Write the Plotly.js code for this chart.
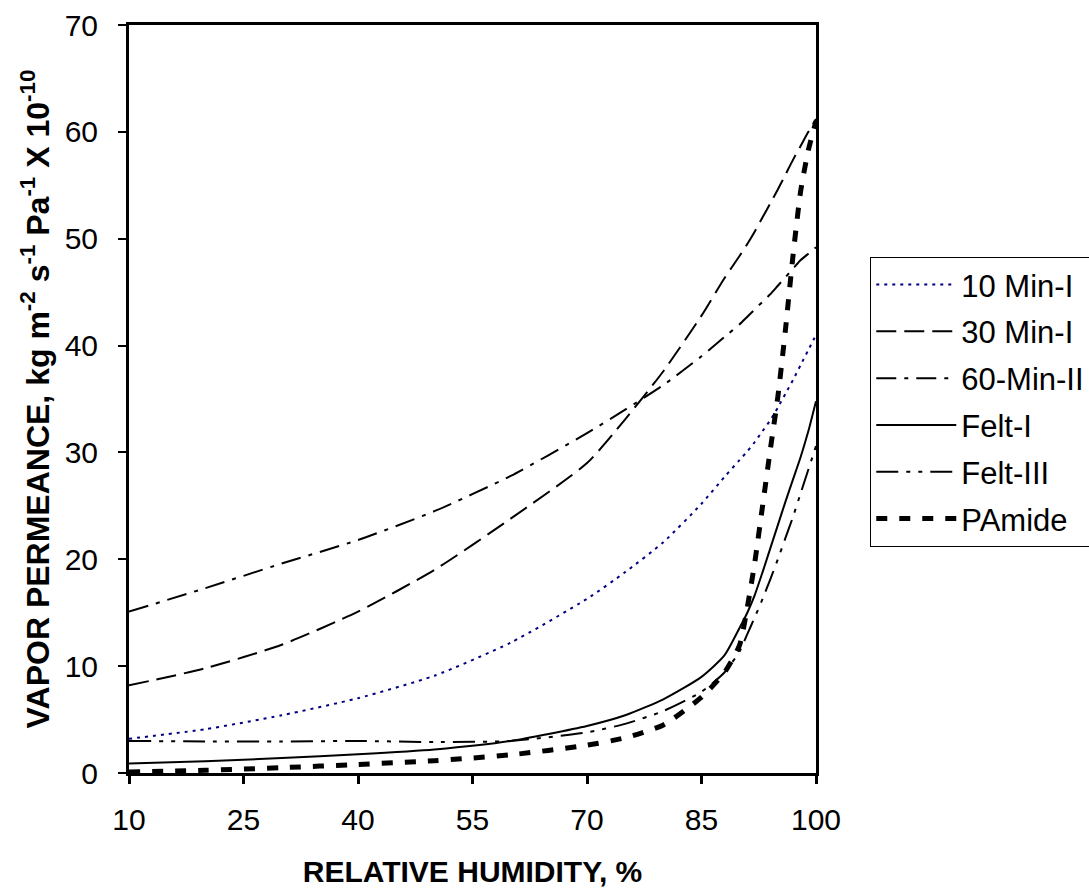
<!DOCTYPE html>
<html>
<head>
<meta charset="utf-8">
<script src="https://cdn.plot.ly/plotly-3.0.1.min.js"></script>
<style>html,body{margin:0;padding:0;background:#fff;}#chart{width:1089px;height:895px;}</style>
</head>
<body>
<div id="chart"></div>
<script>
const rh = [10, 20, 30, 40, 50, 60, 70, 75, 80, 85, 88, 90, 91, 92, 93, 94, 95, 96, 97, 98, 99, 100];
const min10I  = [3.2, 4.1, 5.4, 7.0, 9.1, 12.2, 16.3, 18.8, 21.6, 25.2, 27.7, 29.3, 30.1, 31.0, 32.0, 33.0, 34.2, 35.5, 36.8, 38.2, 39.6, 41.0];
const min30I  = [8.2, 9.8, 12.0, 15.1, 19.0, 23.8, 29.0, 33.1, 37.6, 42.8, 46.3, 48.4, 49.5, 50.7, 52.0, 53.3, 54.6, 56.0, 57.4, 58.7, 60.0, 61.2];
const min60II = [15.1, 17.3, 19.6, 21.8, 24.5, 27.8, 31.8, 34.0, 36.3, 39.0, 40.8, 42.0, 42.7, 43.4, 44.1, 44.8, 45.6, 46.4, 47.2, 48.0, 48.6, 49.2];
const feltI   = [0.9, 1.1, 1.4, 1.75, 2.2, 3.0, 4.4, 5.4, 6.9, 9.0, 11.0, 13.6, 15.0, 16.7, 18.8, 21.0, 23.2, 25.4, 27.5, 29.6, 32.0, 34.8];
const feltIII = [3.0, 2.95, 2.95, 3.0, 2.9, 3.0, 3.8, 4.6, 5.8, 7.6, 9.4, 11.4, 13.0, 14.6, 16.3, 18.1, 20.0, 22.0, 24.0, 26.2, 28.4, 30.6];
const pamide  = [0.1, 0.25, 0.5, 0.8, 1.15, 1.7, 2.6, 3.3, 4.5, 7.1, 9.4, 12.0, 15.5, 19.8, 25.0, 30.2, 35.2, 41.5, 48.5, 54.5, 58.3, 61.0];
const xTicks = [10, 25, 40, 55, 70, 85, 100];
const seriesNames = ['10 Min-I', '30 Min-I', '60-Min-II', 'Felt-I', 'Felt-III', 'PAmide'];

const FONT = 'Liberation Sans, Arial, Helvetica, sans-serif';
function tr(name, y, color, width, dash) {
  return {x: rh, y: y, name: name, legendgroup: name, type: 'scatter', mode: 'lines',
    line: {color: color, width: width, dash: dash, shape: 'spline', smoothing: 0.6}};
}
const data = [
  tr(seriesNames[0], min10I, '#000080', 2, '3px,5px'),
  tr(seriesNames[1], min30I, '#000000', 2, '20px,8px'),
  tr(seriesNames[2], min60II, '#000000', 2, '20px,8px,4px,8px'),
  tr(seriesNames[3], feltI, '#000000', 2, 'solid'),
  tr(seriesNames[4], feltIII, '#000000', 2, '22px,8px,4px,8px,4px,8px'),
  tr(seriesNames[5], pamide, '#000000', 5, '11px,12px')
];
const layout = {
  width: 1089, height: 895,
  margin: {l: 129, r: 273, t: 25, b: 122, autoexpand: false},
  paper_bgcolor: '#fff', plot_bgcolor: '#fff',
  font: {family: FONT, color: '#000', size: 30},
  showlegend: true,
  legend: {x: 1.079, y: 0.69, xanchor: 'left', yanchor: 'top',
    bordercolor: '#000', borderwidth: 1, bgcolor: '#fff',
    font: {family: FONT, size: 31, color: '#000'}, itemwidth: 80, tracegroupgap: 3.5},
  xaxis: {range: [10, 100], tickmode: 'array', tickvals: xTicks, ticktext: xTicks.map(String),
    showgrid: false, zeroline: false, showline: true, linecolor: '#000', linewidth: 3, mirror: true,
    ticks: 'outside', ticklen: 8, tickwidth: 3, tickcolor: '#000', ticklabelstandoff: 10,
    tickfont: {family: FONT, size: 30, color: '#000'},
    title: {text: '<b>RELATIVE HUMIDITY, %</b>', font: {family: FONT, size: 30, color: '#000'}, standoff: 26}},
  yaxis: {range: [0, 70], dtick: 10, tick0: 0,
    showgrid: false, zeroline: false, showline: true, linecolor: '#000', linewidth: 3, mirror: true,
    ticks: 'outside', ticklen: 8, tickwidth: 2, tickcolor: '#000', ticklabelstandoff: 14,
    tickfont: {family: FONT, size: 30, color: '#000'},
    title: {text: '<b>VAPOR PERMEANCE, kg m<sup>-2</sup> s<sup>-1</sup> Pa<sup>-1</sup> X 10<sup>-10</sup></b>',
      font: {family: FONT, size: 32, color: '#000'}, standoff: 6}}
};
Plotly.newPlot('chart', data, layout, {displayModeBar: false, staticPlot: true});
</script>
</body>
</html>
